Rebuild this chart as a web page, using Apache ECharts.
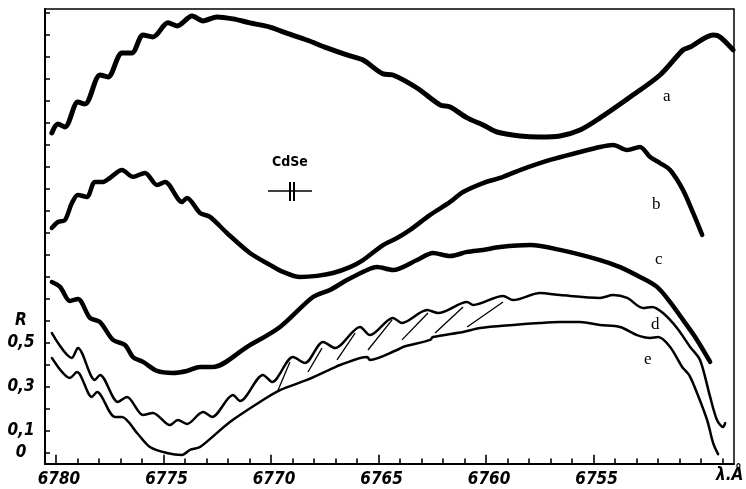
<!DOCTYPE html>
<html>
<head>
<meta charset="utf-8">
<script src="https://cdn.jsdelivr.net/npm/echarts@6/dist/echarts.min.js"></script>
<style>html,body{margin:0;padding:0;background:#fff}#c{width:746px;height:489px}</style>
</head>
<body>
<div id="c"></div>
<script>
// wavelength (Å) and reflectance R
const curveA = [[6780.19,1.455],[6779.91,1.495],[6779.58,1.482],[6778.98,1.595],[6778.65,1.586],[6777.95,1.718],[6777.58,1.709],[6776.93,1.818],[6776.47,1.818],[6775.95,1.900],[6775.49,1.891],[6774.79,1.955],[6774.37,1.941],[6773.67,1.986],[6773.16,1.964],[6772.51,1.982],[6771.77,1.973],[6770.98,1.955],[6770.05,1.936],[6769.44,1.914],[6768.33,1.877],[6767.40,1.841],[6766.47,1.809],[6765.72,1.786],[6764.79,1.723],[6764.33,1.718],[6763.21,1.659],[6762.14,1.582],[6761.67,1.573],[6760.88,1.523],[6760.14,1.491],[6759.49,1.459],[6758.42,1.441],[6757.49,1.436],[6756.56,1.441],[6755.63,1.468],[6754.70,1.523],[6753.30,1.618],[6751.91,1.718],[6750.84,1.832],[6750.51,1.845],[6749.44,1.900],[6749.12,1.891],[6748.51,1.832]];
const curveB = [[6780.19,1.023],[6779.91,1.050],[6779.58,1.059],[6779.26,1.136],[6778.98,1.173],[6778.56,1.164],[6778.19,1.232],[6777.81,1.232],[6777.49,1.250],[6776.93,1.286],[6776.42,1.255],[6775.86,1.273],[6775.30,1.218],[6774.93,1.232],[6774.14,1.141],[6773.91,1.159],[6773.30,1.091],[6772.84,1.073],[6772.05,1.000],[6770.98,0.909],[6770.05,0.855],[6769.44,0.823],[6768.65,0.800],[6767.86,0.805],[6767.12,0.818],[6766.33,0.845],[6765.72,0.877],[6764.79,0.945],[6764.14,0.977],[6763.53,1.014],[6762.60,1.082],[6761.67,1.141],[6761.07,1.186],[6760.14,1.227],[6759.35,1.250],[6758.42,1.286],[6757.02,1.332],[6755.63,1.368],[6754.70,1.391],[6754.09,1.400],[6753.44,1.377],[6752.84,1.391],[6752.37,1.345],[6751.91,1.318],[6751.44,1.286],[6750.84,1.195],[6750.37,1.091],[6749.95,0.991]];
const curveC = [[6780.19,0.777],[6779.81,0.755],[6779.35,0.691],[6778.98,0.700],[6778.42,0.614],[6777.95,0.595],[6777.35,0.514],[6776.79,0.491],[6776.42,0.436],[6775.95,0.414],[6775.30,0.373],[6774.56,0.364],[6773.91,0.373],[6773.30,0.391],[6772.70,0.391],[6771.12,0.482],[6769.58,0.573],[6768.05,0.709],[6767.26,0.741],[6766.47,0.786],[6765.53,0.832],[6765.07,0.845],[6764.33,0.832],[6763.21,0.877],[6762.47,0.909],[6761.67,0.895],[6760.88,0.914],[6760.14,0.923],[6759.35,0.936],[6757.95,0.945],[6756.56,0.923],[6754.70,0.877],[6753.77,0.845],[6752.84,0.800],[6752.05,0.755],[6751.44,0.686],[6750.84,0.605],[6750.19,0.514],[6749.58,0.414]];
const curveD = [[6780.19,0.545],[6779.26,0.432],[6778.98,0.477],[6778.19,0.332],[6777.95,0.355],[6777.12,0.232],[6776.70,0.255],[6775.95,0.173],[6775.49,0.182],[6774.70,0.127],[6774.33,0.150],[6773.91,0.132],[6773.16,0.186],[6772.74,0.164],[6771.77,0.264],[6771.44,0.236],[6770.37,0.355],[6769.95,0.323],[6768.98,0.436],[6768.42,0.409],[6767.58,0.505],[6767.02,0.477],[6765.86,0.573],[6765.40,0.536],[6764.33,0.614],[6763.91,0.591],[6762.74,0.650],[6762.23,0.636],[6760.88,0.686],[6760.60,0.673],[6759.21,0.714],[6758.74,0.695],[6757.49,0.727],[6756.56,0.718],[6754.70,0.705],[6754.09,0.718],[6753.44,0.705],[6752.70,0.659],[6752.28,0.664],[6751.77,0.636],[6751.12,0.568],[6750.51,0.482],[6750.05,0.423],[6749.58,0.255],[6749.26,0.150],[6748.98,0.118],[6748.88,0.136]];
const curveE = [[6780.19,0.432],[6779.35,0.341],[6779.02,0.368],[6778.33,0.255],[6778.09,0.277],[6777.26,0.164],[6776.93,0.164],[6776.23,0.091],[6775.63,0.027],[6774.84,0.000],[6774.14,-0.009],[6773.77,0.014],[6773.30,0.027],[6771.91,0.141],[6770.37,0.241],[6769.58,0.286],[6768.33,0.332],[6767.12,0.386],[6766.79,0.400],[6765.53,0.436],[6765.40,0.423],[6764.14,0.468],[6763.86,0.482],[6762.60,0.514],[6762.47,0.527],[6761.07,0.550],[6760.28,0.568],[6758.74,0.582],[6757.49,0.591],[6756.56,0.595],[6755.63,0.595],[6754.70,0.582],[6753.77,0.573],[6752.98,0.536],[6752.37,0.523],[6752.00,0.527],[6751.44,0.482],[6750.88,0.391],[6750.56,0.355],[6750.19,0.273],[6749.72,0.150],[6749.44,0.045],[6749.21,-0.005]];
const hatch = [[[6769.67,0.286],[6769.12,0.414]],[[6768.28,0.368],[6767.63,0.477]],[[6766.93,0.423],[6766.09,0.545]],[[6765.49,0.468],[6764.37,0.605]],[[6763.91,0.514],[6762.70,0.636]],[[6762.37,0.545],[6761.07,0.664]],[[6760.88,0.573],[6759.21,0.686]]];
const xLabelValues = [6780, 6775, 6770, 6765, 6760, 6755];
const xMinorTicks = [6749,6750,6751,6752,6753,6754,6756,6757,6758,6759,6761,6762,6763,6764,6766,6767,6768,6769,6771,6772,6773,6774,6776,6777,6778,6779];
const yTickValues = [0,0.1,0.2,0.3,0.4,0.5,0.6,0.7,0.8,0.9,1.0,1.1,1.2,1.3,1.4,1.5,1.6,1.7,1.8,1.9,2.0];
const yLabelValues = [0, 0.1, 0.3, 0.5, 0.6];
const yLabelText = {'0':'0','0.1':'0,1','0.3':'0,3','0.5':'0,5','0.6':'R'};
const curveNames = ['a','b','c','d','e'];

const chart = echarts.init(document.getElementById('c'), null, {renderer:'canvas'});
const labFont = {fontFamily:'DejaVu Sans Condensed', fontStyle:'italic', fontWeight:'bold', fontSize:17, color:'#000'};
const X_MIN = 6748.47, X_MAX = 6780.51, Y_MIN = -0.05, Y_MAX = 2.018;
function lineSeries(name, data, w) {
  return {name, type:'line', data, showSymbol:false, smooth:0.3, xAxisIndex:0, yAxisIndex:0,
    lineStyle:{color:'#000', width:w, cap:'round', join:'round'}, animation:false, silent:true};
}
// tick marks standing on the wavelength baseline (height given in R units)
function tickSeries(values, h) {
  return {type:'lines', coordinateSystem:'cartesian2d', xAxisIndex:0, yAxisIndex:0, silent:true, animation:false, z:10,
    data: values.map(v => ({coords:[[v, Y_MIN], [v, Y_MIN + h]]})),
    lineStyle:{color:'#000', width:1.6, opacity:1}};
}
chart.setOption({
  animation:false,
  grid:{left:45, right:12, top:9, bottom:25, show:true, borderColor:'#000', borderWidth:1.5, backgroundColor:'transparent'},
  xAxis:{
    type:'value', inverse:true, min:X_MIN, max:X_MAX, position:'bottom',
    axisLine:{show:true, onZero:false, lineStyle:{color:'#000', width:2}},
    axisTick:{show:false},
    axisLabel:{show:true, customValues:xLabelValues, margin:7, padding:[0,0,0,6], ...labFont, formatter:v=>String(v)},
    splitLine:{show:false}
  },
  yAxis:{
    type:'value', min:Y_MIN, max:Y_MAX,
    axisLine:{show:true, onZero:false, lineStyle:{color:'#000', width:2}},
    axisTick:{show:true, inside:true, length:5, customValues:yTickValues, lineStyle:{color:'#000', width:1.5}},
    axisLabel:{show:true, customValues:yLabelValues, margin:24, align:'center', ...labFont,
      formatter:v=>{const k=String(Math.round(v*10)/10); return yLabelText[k]!==undefined?yLabelText[k]:k;}},
    splitLine:{show:false}
  },
  series:[
    lineSeries(curveNames[0], curveA, 5),
    lineSeries(curveNames[1], curveB, 4.5),
    lineSeries(curveNames[2], curveC, 4.5),
    lineSeries(curveNames[3], curveD, 2.5),
    lineSeries(curveNames[4], curveE, 2.5),
    {type:'lines', coordinateSystem:'cartesian2d', xAxisIndex:0, yAxisIndex:0, silent:true,
      data:hatch.map(p=>({coords:p})), lineStyle:{color:'#000', width:1.3, opacity:1}, animation:false},
    tickSeries(xLabelValues, 0.042),
    tickSeries(xMinorTicks, 0.025)
  ],
  graphic:[
    {type:'text', left:663, top:88, style:{text:'a', font:'17px "Liberation Serif"', fill:'#000'}},
    {type:'text', left:652, top:196, style:{text:'b', font:'17px "Liberation Serif"', fill:'#000'}},
    {type:'text', left:655, top:251, style:{text:'c', font:'17px "Liberation Serif"', fill:'#000'}},
    {type:'text', left:651, top:316, style:{text:'d', font:'17px "Liberation Serif"', fill:'#000'}},
    {type:'text', left:644, top:351, style:{text:'e', font:'17px "Liberation Serif"', fill:'#000'}},
    {type:'text', left:272, top:155, style:{text:'CdSe', font:'bold 14px "DejaVu Sans Condensed"', fill:'#000'}},
    {type:'line', shape:{x1:268, y1:191, x2:312, y2:191}, style:{stroke:'#000', lineWidth:1.5}},
    {type:'line', shape:{x1:290, y1:182, x2:290, y2:201}, style:{stroke:'#000', lineWidth:2}},
    {type:'line', shape:{x1:294, y1:182, x2:294, y2:201}, style:{stroke:'#000', lineWidth:2}},
    {type:'text', left:716, top:467, style:{text:'λ.Å', font:'italic bold 17px "DejaVu Sans Condensed"', fill:'#000'}}
  ]
});
</script>
</body>
</html>
